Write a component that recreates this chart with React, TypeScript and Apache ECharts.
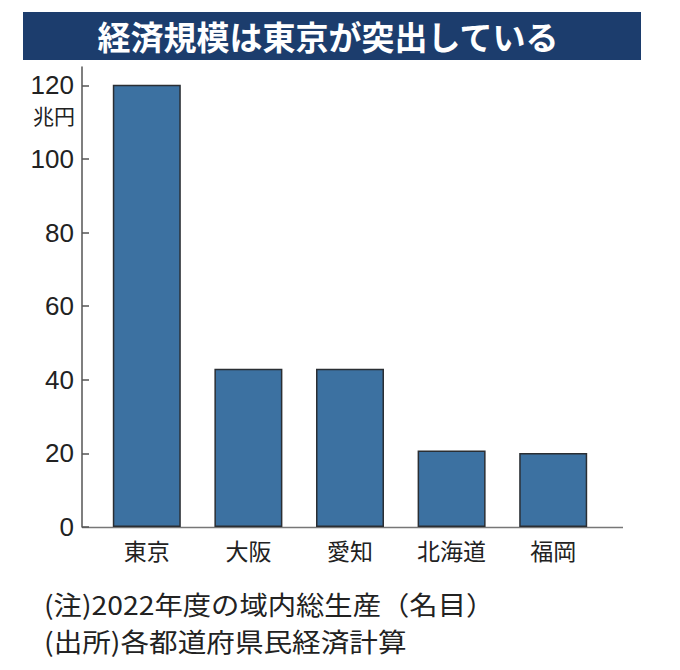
import React, { useEffect, useRef } from "react";
import * as echarts from "echarts";

const TITLE = "経済規模は東京が突出している";
const categories = ["東京", "大阪", "愛知", "北海道", "福岡"];
const values = [120.2, 43.0, 43.0, 20.8, 20.1];
const tickValues = [0, 20, 40, 60, 80, 100, 120];
const UNIT = "兆円";
const NOTE1 = "(注)2022年度の域内総生産（名目）";
const NOTE2 = "(出所)各都道府県民経済計算";

const CJK = '"Noto Sans CJK JP", sans-serif';
const NUM = '"Liberation Sans", "Noto Sans", sans-serif';

export default function App() {
  const ref = useRef<HTMLDivElement>(null);
  useEffect(() => {
    if (!ref.current) return;
    const chart = echarts.init(ref.current, undefined, { renderer: "svg" });
    chart.setOption({
      animation: false,
      backgroundColor: "#ffffff",
      grid: { left: 96, right: 76, top: 67, bottom: 143, containLabel: false },
      xAxis: {
        type: "category",
        data: categories,
        axisLine: { show: false },
        axisTick: { show: false },
        axisLabel: { color: "#222", fontSize: 23, fontFamily: CJK, margin: 11 },
      },
      yAxis: {
        type: "value",
        min: 0,
        max: 125,
        interval: 20,
        offset: 14,
        splitLine: { show: false },
        axisLine: { show: true, lineStyle: { color: "#555", width: 1.5 } },
        axisTick: {
          show: true,
          inside: true,
          length: 7,
          customValues: tickValues,
          lineStyle: { color: "#555", width: 1.5 },
        },
        axisLabel: {
          customValues: tickValues,
          color: "#222",
          fontSize: 26,
          fontFamily: NUM,
          margin: 8,
        },
      },
      graphic: [
        {
          type: "rect",
          shape: { x: 23, y: 12, width: 618, height: 48 },
          style: { fill: "#1c3d6d" },
        },
        {
          type: "text",
          x: 328,
          y: 36,
          style: {
            text: TITLE,
            fill: "#ffffff",
            fontSize: 33,
            fontWeight: "bold",
            fontFamily: CJK,
            align: "center",
            verticalAlign: "middle",
          },
        },
        {
          type: "text",
          x: 75,
          y: 115,
          style: {
            text: UNIT,
            fill: "#222",
            fontSize: 21,
            fontFamily: CJK,
            align: "right",
            verticalAlign: "middle",
          },
        },
        {
          type: "line",
          shape: { x1: 82, y1: 527.5, x2: 623, y2: 527.5 },
          style: { stroke: "#777", lineWidth: 1.5 },
        },
        {
          type: "text",
          x: 44,
          y: 604,
          scaleX: 1.09,
          style: {
            text: NOTE1,
            fill: "#222",
            fontSize: 26,
            fontFamily: CJK,
            align: "left",
            verticalAlign: "middle",
          },
        },
        {
          type: "text",
          x: 44,
          y: 641,
          scaleX: 1.1,
          style: {
            text: NOTE2,
            fill: "#222",
            fontSize: 26,
            fontFamily: CJK,
            align: "left",
            verticalAlign: "middle",
          },
        },
      ],
      series: [
        {
          type: "bar",
          data: values,
          barWidth: 68,
          itemStyle: { color: "#3c71a1", borderColor: "#2a2e33", borderWidth: 1.5 },
        },
      ],
    });
    return () => chart.dispose();
  }, []);
  return <div ref={ref} style={{ width: 680, height: 670, margin: -8 }} />;
}
